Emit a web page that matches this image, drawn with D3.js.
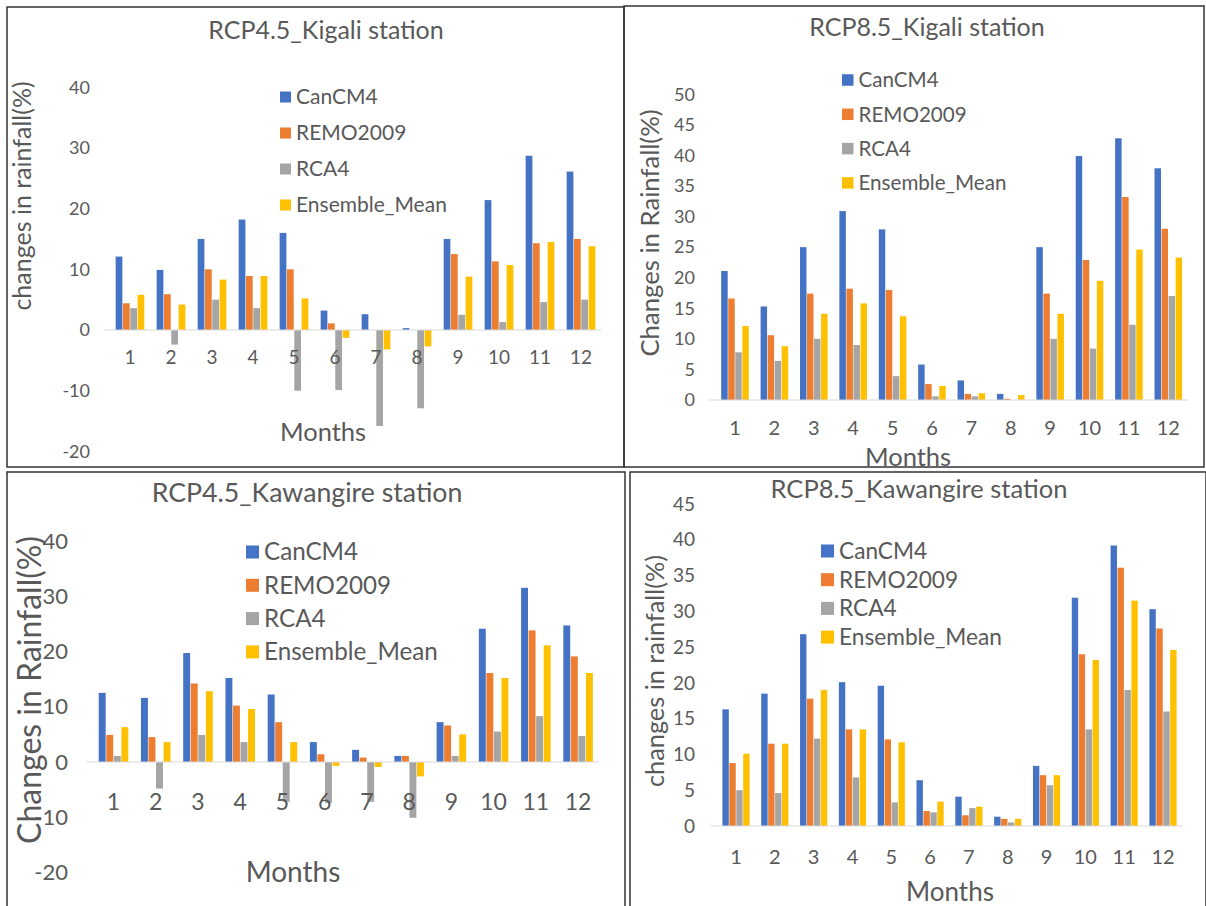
<!doctype html>
<html>
<head>
<meta charset="utf-8">
<title>Changes in rainfall</title>
<script src="https://cdn.jsdelivr.net/npm/d3@7"></script>
<style>
  body { margin: 0; background: #fff; }
  svg text { font-family: Lato, 'Open Sans', sans-serif; fill: #595959; }
</style>
</head>
<body>
<svg width="1206" height="906"></svg>
<script>
var months = [1, 2, 3, 4, 5, 6, 7, 8, 9, 10, 11, 12];
var models = ['CanCM4', 'REMO2009', 'RCA4', 'Ensemble_Mean'];

// RCP4.5 Kigali
var kig45Can  = [12.1, 9.9, 15.0, 18.2, 16.0, 3.2, 2.6, 0.3, 15.0, 21.4, 28.7, 26.1];
var kig45Remo = [4.4, 5.9, 10.0, 8.9, 10.0, 1.1, 0, 0, 12.5, 11.3, 14.3, 15.0];
var kig45Rca  = [3.6, -2.4, 5.0, 3.6, -10.0, -9.9, -15.8, -12.9, 2.5, 1.3, 4.6, 5.0];
var kig45Ens  = [5.8, 4.2, 8.3, 8.9, 5.2, -1.3, -3.2, -2.7, 8.8, 10.7, 14.5, 13.8];

// RCP8.5 Kigali
var kig85Can  = [21.1, 15.3, 25.0, 30.9, 27.9, 5.8, 3.2, 1.0, 25.0, 39.9, 42.8, 37.9];
var kig85Remo = [16.6, 10.6, 17.4, 18.2, 18.0, 2.6, 1.0, 0.2, 17.4, 22.9, 33.2, 28.0];
var kig85Rca  = [7.8, 6.4, 10.0, 9.0, 3.9, 0.6, 0.6, 0, 10.0, 8.4, 12.3, 17.0];
var kig85Ens  = [12.1, 8.8, 14.1, 15.8, 13.7, 2.3, 1.1, 0.8, 14.1, 19.5, 24.6, 23.3];

// RCP4.5 Kawangire
var kaw45Can  = [12.5, 11.6, 19.7, 15.2, 12.2, 3.6, 2.2, 1.1, 7.2, 24.1, 31.5, 24.7];
var kaw45Remo = [4.9, 4.5, 14.2, 10.2, 7.2, 1.4, 0.8, 1.1, 6.6, 16.1, 23.8, 19.1];
var kaw45Rca  = [1.1, -4.8, 4.9, 3.6, -7.2, -7.4, -7.2, -10.1, 1.1, 5.5, 8.3, 4.7];
var kaw45Ens  = [6.3, 3.6, 12.8, 9.6, 3.6, -0.7, -0.9, -2.6, 5.0, 15.2, 21.1, 16.1];

// RCP8.5 Kawangire
var kaw85Can  = [16.3, 18.5, 26.8, 20.1, 19.6, 6.4, 4.1, 1.3, 8.4, 31.9, 39.2, 30.3];
var kaw85Remo = [8.8, 11.5, 17.8, 13.5, 12.1, 2.1, 1.5, 1.0, 7.1, 24.0, 36.1, 27.6];
var kaw85Rca  = [5.0, 4.6, 12.2, 6.8, 3.3, 1.9, 2.5, 0.5, 5.7, 13.5, 19.0, 16.0];
var kaw85Ens  = [10.1, 11.5, 19.0, 13.5, 11.7, 3.4, 2.7, 1.0, 7.1, 23.2, 31.5, 24.6];

var ticks45 = [-20, -10, 0, 10, 20, 30, 40];
var ticksKig85 = [0, 5, 10, 15, 20, 25, 30, 35, 40, 45, 50];
var ticksKaw85 = [0, 5, 10, 15, 20, 25, 30, 35, 40, 45];

var colors = ['#4472c4', '#ed7d31', '#a5a5a5', '#ffc000'];

var panels = [
  { title: 'RCP4.5_Kigali station', yTitle: 'changes in rainfall(%)',
    series: [kig45Can, kig45Remo, kig45Rca, kig45Ens], ticks: ticks45,
    box: [7, 7, 617, 460], titleAt: [326, 30, 25],
    y: [-20, 40, 451.4, 87.2], tickX: 90, tickSize: 18,
    x: [109.5, 601.5], xLabelY: 357, xLabelSize: 19,
    yTitleAt: [22, 196, 25], monthsAt: [323, 432, 25.5],
    legend: [280, 97, 36, 11, 21] },
  { title: 'RCP8.5_Kigali station', yTitle: 'Changes in Rainfall(%)',
    series: [kig85Can, kig85Remo, kig85Rca, kig85Ens], ticks: ticksKig85,
    box: [624, 6, 580, 461], titleAt: [927, 27, 25],
    y: [0, 50, 400, 94.3], tickX: 695, tickSize: 18,
    x: [715.3, 1188], xLabelY: 428, xLabelSize: 20,
    yTitleAt: [650, 233, 25.7], monthsAt: [908, 457, 25.5],
    legend: [842, 80, 34.3, 11.5, 20.6] },
  { title: 'RCP4.5_Kawangire station', yTitle: 'Changes in Rainfall(%)',
    series: [kaw45Can, kaw45Remo, kaw45Rca, kaw45Ens], ticks: ticks45,
    box: [7, 472, 618, 440], titleAt: [307, 493, 26.7],
    y: [-20, 40, 872.6, 540.8], tickX: 68, tickSize: 22,
    x: [92.4, 599.2], xLabelY: 802, xLabelSize: 23,
    yTitleAt: [30, 690, 32], monthsAt: [293, 872, 28],
    legend: [246, 552, 33.3, 13, 24.2] },
  { title: 'RCP8.5_Kawangire station', yTitle: 'changes in rainfall(%)',
    series: [kaw85Can, kaw85Remo, kaw85Rca, kaw85Ens], ticks: ticksKaw85,
    box: [630, 472, 576, 440], titleAt: [919, 489, 25.5],
    y: [0, 45, 826, 504], tickX: 695, tickSize: 19,
    x: [716.6, 1182.4], xLabelY: 857, xLabelSize: 20,
    yTitleAt: [655, 671, 25.3], monthsAt: [950, 892, 26],
    legend: [821, 551, 28.7, 13, 22.7] }
];

var svg = d3.select('svg');

panels.forEach(function(p) {
  var g = svg.append('g');

  g.append('rect')
    .attr('x', p.box[0]).attr('y', p.box[1])
    .attr('width', p.box[2]).attr('height', p.box[3])
    .attr('fill', 'none')
    .attr('stroke', '#333')
    .attr('stroke-width', 1.5);

  var x0 = d3.scaleBand()
    .domain(months)
    .range(p.x)
    .paddingInner(0.3)
    .paddingOuter(0.15);

  var x1 = d3.scaleBand()
    .domain(d3.range(models.length))
    .range([0, x0.bandwidth()])
    .paddingInner(0.08);

  var y = d3.scaleLinear()
    .domain([p.y[0], p.y[1]])
    .range([p.y[2], p.y[3]]);

  // bars
  p.series.forEach(function(vals, si) {
    g.append('g')
      .attr('fill', colors[si])
      .selectAll('rect')
      .data(vals)
      .enter().append('rect')
      .attr('x', function(d, i) { return x0(months[i]) + x1(si); })
      .attr('y', function(d) { return y(Math.max(0, d)); })
      .attr('width', x1.bandwidth())
      .attr('height', function(d) { return Math.abs(y(d) - y(0)); });
  });

  // zero line
  g.append('line')
    .attr('x1', p.x[0] - 6).attr('x2', p.x[1])
    .attr('y1', y(0)).attr('y2', y(0))
    .attr('stroke', '#d9d9d9')
    .attr('stroke-width', 1);

  // y tick labels
  g.append('g')
    .selectAll('text')
    .data(p.ticks)
    .enter().append('text')
    .attr('x', p.tickX)
    .attr('y', function(d) { return y(d); })
    .attr('dy', '0.35em')
    .attr('text-anchor', 'end')
    .attr('font-size', p.tickSize)
    .text(function(d) { return d; });

  // month labels
  g.append('g')
    .selectAll('text')
    .data(months)
    .enter().append('text')
    .attr('x', function(d) { return x0(d) + x0.bandwidth() / 2; })
    .attr('y', p.xLabelY)
    .attr('dy', '0.35em')
    .attr('text-anchor', 'middle')
    .attr('font-size', p.xLabelSize)
    .text(function(d) { return d; });

  g.append('text')
    .attr('x', p.titleAt[0]).attr('y', p.titleAt[1])
    .attr('dy', '0.35em')
    .attr('text-anchor', 'middle')
    .attr('font-size', p.titleAt[2])
    .text(p.title);

  g.append('text')
    .attr('transform', 'translate(' + p.yTitleAt[0] + ',' + p.yTitleAt[1] + ') rotate(-90)')
    .attr('dy', '0.35em')
    .attr('text-anchor', 'middle')
    .attr('font-size', p.yTitleAt[2])
    .text(p.yTitle);

  g.append('text')
    .attr('x', p.monthsAt[0]).attr('y', p.monthsAt[1])
    .attr('dy', '0.35em')
    .attr('text-anchor', 'middle')
    .attr('font-size', p.monthsAt[2])
    .text('Months');

  // legend
  var lg = g.append('g')
    .selectAll('g')
    .data(models)
    .enter().append('g')
    .attr('transform', function(d, i) {
      return 'translate(' + p.legend[0] + ',' + (p.legend[1] + i * p.legend[2]) + ')';
    });

  lg.append('rect')
    .attr('x', 0)
    .attr('y', -p.legend[3] / 2)
    .attr('width', p.legend[3])
    .attr('height', p.legend[3])
    .attr('fill', function(d, i) { return colors[i]; });

  lg.append('text')
    .attr('x', p.legend[3] + 5)
    .attr('y', 0)
    .attr('dy', '0.35em')
    .attr('font-size', p.legend[4])
    .text(function(d) { return d; });
});
</script>
</body>
</html>
